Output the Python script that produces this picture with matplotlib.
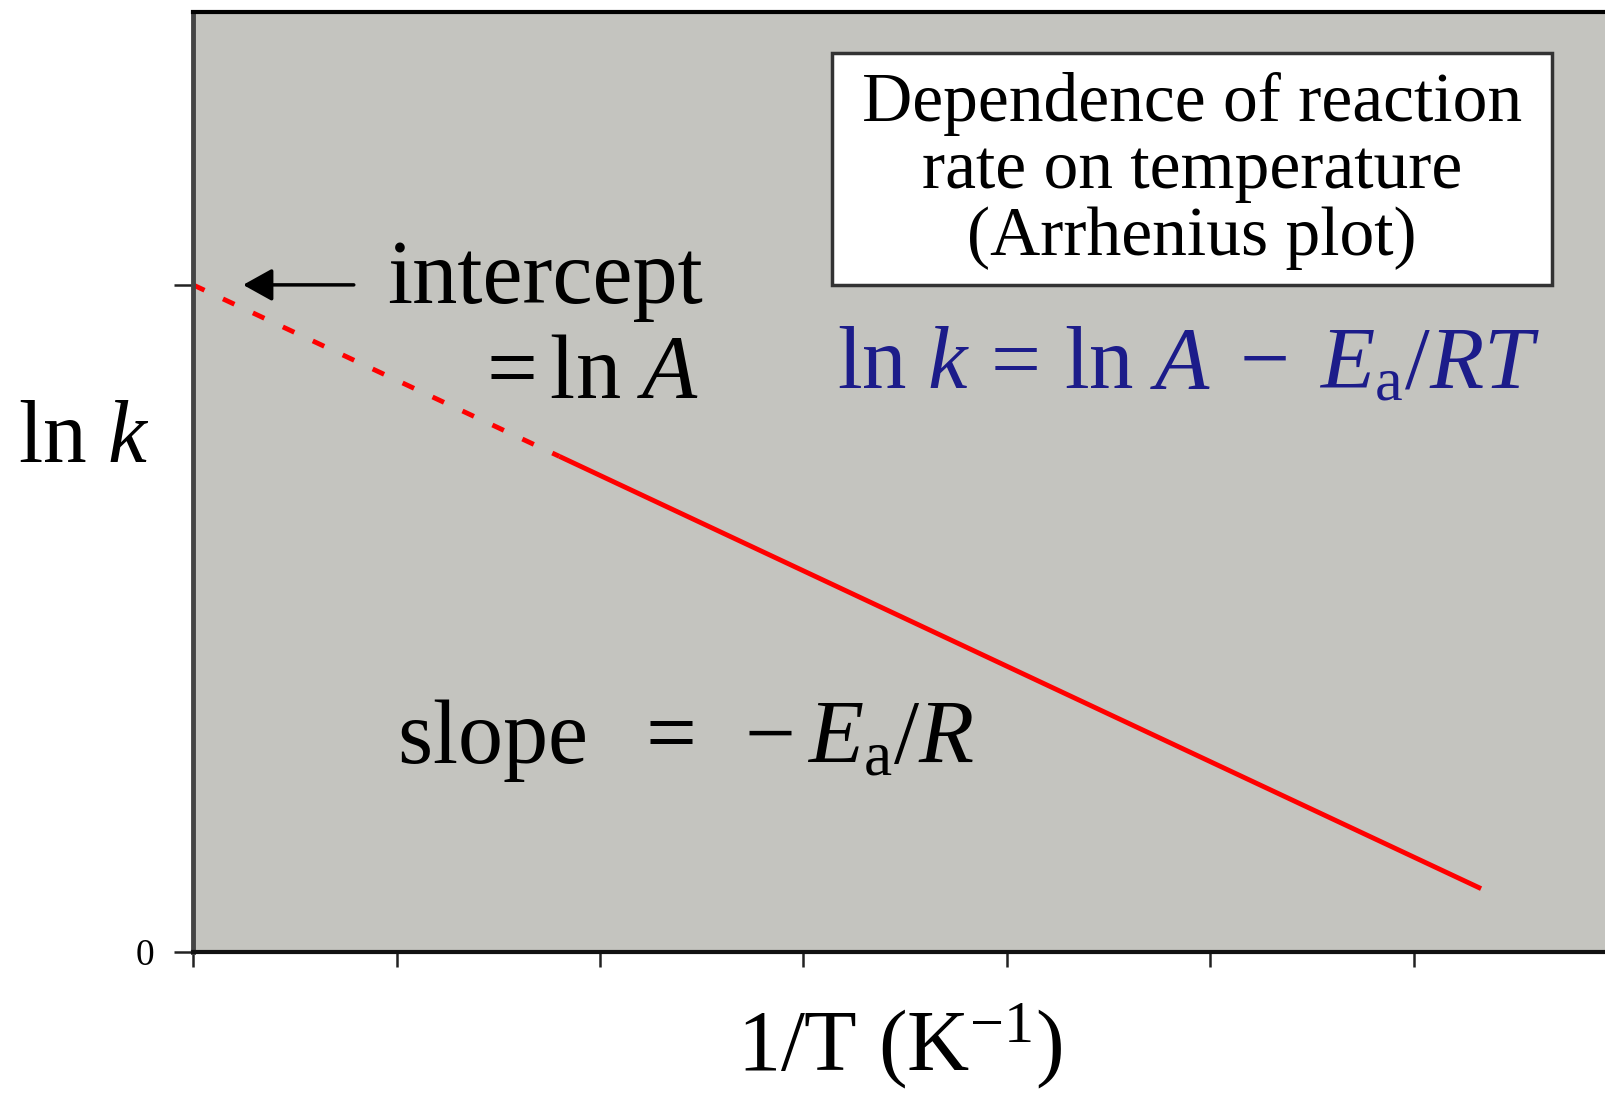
import matplotlib.pyplot as plt
from matplotlib.patches import Rectangle

plt.rcParams['font.family'] = ['Liberation Serif', 'DejaVu Serif']
plt.rcParams['mathtext.fontset'] = 'custom'
plt.rcParams['mathtext.rm'] = 'Liberation Serif'
plt.rcParams['mathtext.it'] = 'Liberation Serif:italic'

# 1/T (arbitrary tick units) and ln k
inv_T = [0.0, 1.8, 6.33]
ln_k = [10.0, 7.43, 0.95]
x_ticks = [0, 1, 2, 3, 4, 5, 6]
y_ticks = [0, 10]
y_tick_labels = ['0', '']

fig = plt.figure(figsize=(16.06, 10.93), dpi=100)
ax = fig.add_axes([0.1202, 0.129, 0.8798, 0.860])
ax.set_facecolor('#c4c4bf')

# extrapolated part (dotted) and measured part (solid)
ax.plot(inv_T[:2], ln_k[:2], color='red', lw=3.5, linestyle=(0, (2.6, 4.2)),
        dash_capstyle='butt', clip_on=False)
ax.plot(inv_T[1:], ln_k[1:], color='red', lw=3.5, solid_capstyle='butt')

ax.set_xlim(0, 6.944)
ax.set_ylim(0, 14.09)
ax.set_xticks(x_ticks)
ax.set_xticklabels([])
ax.set_yticks(y_ticks)
ax.set_yticklabels(y_tick_labels)
ax.tick_params(axis='x', length=11, width=1.8, direction='out', color='#222')
ax.tick_params(axis='y', length=14, width=1.8, direction='out', color='#222',
               labelsize=27, pad=14)

ax.spines['right'].set_visible(False)
ax.spines['top'].set_color('black')
ax.spines['top'].set_linewidth(3)
ax.spines['bottom'].set_color('#111')
ax.spines['bottom'].set_linewidth(3)
ax.spines['left'].set_color('#444')
ax.spines['left'].set_linewidth(3.5)

ax.text(0.953, 9.73, 'intercept', fontsize=65, va='baseline')
ax.text(2.49, 8.31, r'$=\mathrm{ln}\ A$', fontsize=65, va='baseline', ha='right')
ax.annotate('', xy=(0.246, 10.0), xytext=(0.79, 10.0),
            arrowprops=dict(arrowstyle='-|>,head_length=1.8,head_width=1.0',
                            mutation_scale=10, color='black', lw=2.5,
                            shrinkA=0, shrinkB=0))

# title box
ax.add_patch(Rectangle((0.4522, 0.7096), 0.5096, 0.2468, transform=ax.transAxes,
                       facecolor='white', edgecolor='#333', lw=2.5, zorder=3))
ax.text(4.909, 11.71, 'Dependence of reaction\nrate on temperature\n(Arrhenius plot)',
        fontsize=50, ha='center', va='center', linespacing=1.07, zorder=4)

ax.text(3.165, 8.456, r'$\mathrm{ln}\ k \,=\, \mathrm{ln}\ A \;-\; E_\mathrm{a}/RT$',
        fontsize=64, color='#1c1c8a', va='baseline')

ax.text(1.002, 2.83, r'slope  $=\ -E_\mathrm{a}/R$', fontsize=65, va='baseline')

ax.set_ylabel(r'$\mathrm{ln}\ k$', rotation=0, fontsize=63, ha='left', va='baseline')
ax.yaxis.set_label_coords(-0.1239, 0.521)
ax.set_xlabel(r'1/T (K$^{-1}$)', fontsize=62, va='baseline')
ax.xaxis.set_label_coords(0.5, -0.1255)

fig.savefig('out.png', dpi=100)
